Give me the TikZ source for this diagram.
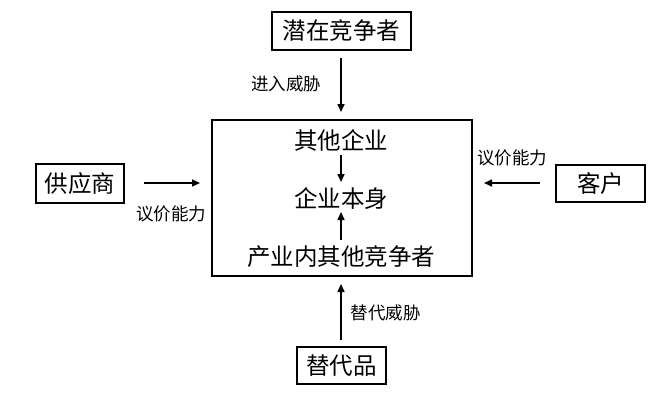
\documentclass[tikz,border=0pt]{standalone}
\usepackage{fontspec}
\newfontfamily\cjk{Noto Sans CJK SC}
\usetikzlibrary{arrows.meta}
\begin{document}
\begin{tikzpicture}[x=1pt,y=-1pt,
  box/.style={draw,line width=1.3pt,inner sep=0pt,font=\cjk\fontsize{23.5}{25}\selectfont},
  inner/.style={inner sep=0pt,font=\cjk\fontsize{23.5}{25}\selectfont},
  lab/.style={inner sep=0pt,font=\cjk\fontsize{17.5}{19}\selectfont},
  arr/.style={line width=1.6pt,-{Triangle[length=8pt,width=7pt]}}]
\useasboundingbox (0,0) rectangle (672,402);
\node[box,minimum width=139pt,minimum height=38pt] (top) at (341.5,31) {潜在竞争者};
\node[draw,line width=1.3pt,minimum width=260pt,minimum height=156pt,inner sep=0pt] (main) at (342,198) {};
\node[inner] (other) at (341,140) {其他企业};
\node[inner] (self) at (341,199) {企业本身};
\node[inner] (rival) at (341,257) {产业内其他竞争者};
\node[box,minimum width=88pt,minimum height=39pt] (sup) at (80,183.5) {供应商};
\node[box,minimum width=89pt,minimum height=37pt] (cus) at (600.5,183.5) {客户};
\node[box,minimum width=89pt,minimum height=37pt] (sub) at (341.5,365.5) {替代品};
\coordinate (t1) at (341,58); \coordinate (t2) at (341,112);
\coordinate (s1) at (144,183); \coordinate (s2) at (200,183);
\coordinate (c1) at (540,183); \coordinate (c2) at (484,183);
\coordinate (b1) at (341,340); \coordinate (b2) at (341,284);
\coordinate (o1) at (341,155); \coordinate (o2) at (341,182);
\coordinate (r1) at (341,240); \coordinate (r2) at (341,212);
\draw[arr] (t1) -- (t2);
\draw[arr] (s1) -- (s2);
\draw[arr] (c1) -- (c2);
\draw[arr] (b1) -- (b2);
\draw[arr] (o1) -- (o2);
\draw[arr] (r1) -- (r2);
\node[lab] (l1) at (286,84) {进入威胁};
\node[lab] (l2) at (171,214) {议价能力};
\node[lab] (l3) at (512,158) {议价能力};
\node[lab] (l4) at (385.5,313) {替代威胁};
\end{tikzpicture}
\end{document}
